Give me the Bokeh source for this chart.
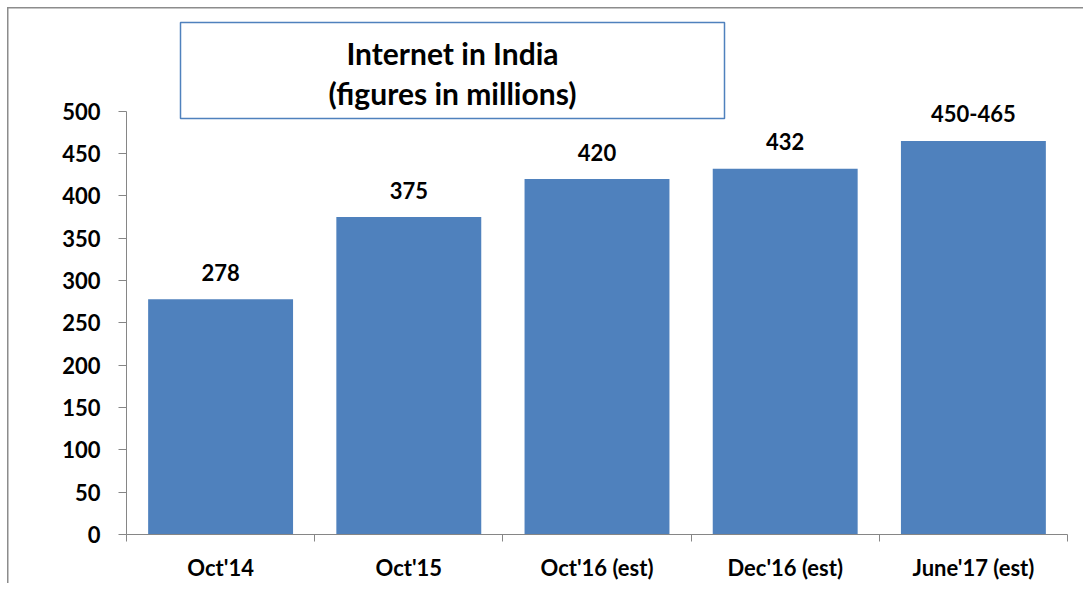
from bokeh.plotting import figure
from bokeh.models import ColumnDataSource, Range1d, FixedTicker, BoxAnnotation, Label
from bokeh.core.properties import value
from bokeh.embed import file_html
from bokeh.resources import INLINE

categories = ["Oct'14", "Oct'15", "Oct'16 (est)", "Dec'16 (est)", "June'17 (est)"]
values = [278, 375, 420, 432, 465]
value_labels = ["278", "375", "420", "432", "450-465"]
y_ticks = [0, 50, 100, 150, 200, 250, 300, 350, 400, 450, 500]

FONT = "Lato"
BAR = "#4F81BD"
AXIS = "#868686"
FRAME = "#8c8c8c"

xs = [i + 0.5 for i in range(len(categories))]
src = ColumnDataSource(dict(x=xs, top=values, label=value_labels))

p = figure(width=1083, height=583, output_backend="svg", toolbar_location=None,
           x_range=Range1d(0, len(categories)), y_range=Range1d(0, 630.9),
           min_border_left=126, min_border_right=16, min_border_bottom=48, min_border_top=0)
p.outline_line_color = None
p.xgrid.visible = False
p.ygrid.visible = False
p.background_fill_color = None
p.border_fill_color = None
p.styles = {
    "background": (f"linear-gradient({FRAME},{FRAME}) 7px 7px / 1.5px 700px no-repeat, "
                   f"linear-gradient({FRAME},{FRAME}) 7px 7px / 1200px 1.5px no-repeat, white"),
}

p.vbar(x="x", top="top", width=0.77, bottom=0, source=src, fill_color=BAR, line_color=None)
p.text(x="x", y="top", text="label", source=src, text_align="center", text_baseline="middle",
       y_offset=-27, text_font=value(FONT), text_font_style="bold", text_font_size="22px",
       text_color="black")

# y axis
ya = p.yaxis[0]
ya.ticker = FixedTicker(ticks=y_ticks)
ya.bounds = (0, 500)
ya.axis_line_color = AXIS
ya.major_tick_line_color = AXIS
ya.major_tick_out = 8
ya.major_tick_in = 0
ya.minor_tick_line_color = None
ya.major_label_standoff = 18
ya.major_label_text_font = FONT
ya.major_label_text_font_style = "bold"
ya.major_label_text_font_size = "22px"
ya.major_label_text_color = "black"

# x axis
xa = p.xaxis[0]
xa.ticker = FixedTicker(ticks=xs, minor_ticks=list(range(len(categories) + 1)))
xa.major_label_overrides = {x: c for x, c in zip(xs, categories)}
xa.axis_line_color = AXIS
xa.major_tick_line_color = None
xa.minor_tick_line_color = AXIS
xa.minor_tick_out = 7
xa.minor_tick_in = 0
xa.major_label_standoff = 12
xa.major_label_text_font = FONT
xa.major_label_text_font_style = "bold"
xa.major_label_text_font_size = "22px"
xa.major_label_text_color = "black"

# title box
p.add_layout(BoxAnnotation(left=180, right=724, top=22, bottom=118,
                           left_units="canvas", right_units="canvas", top_units="canvas", bottom_units="canvas",
                           fill_color="white", fill_alpha=1, line_color=BAR, line_alpha=1, line_width=1.5))
p.add_layout(Label(x=452, y=52, x_units="canvas", y_units="canvas", text="Internet in India",
                   text_align="center", text_baseline="middle", text_font=FONT, text_font_style="bold",
                   text_font_size="30px", text_color="black"))
p.add_layout(Label(x=452, y=92, x_units="canvas", y_units="canvas", text="(figures in millions)",
                   text_align="center", text_baseline="middle", text_font=FONT, text_font_style="bold",
                   text_font_size="30px", text_color="black"))

open("out.html", "w").write(file_html(p, INLINE))
